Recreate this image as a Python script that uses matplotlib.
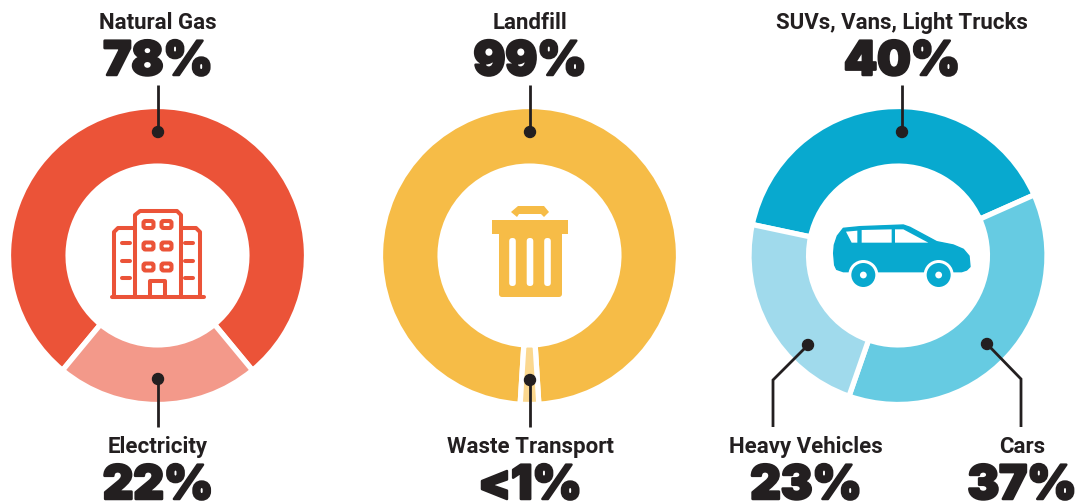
import matplotlib
matplotlib.use('Agg')
import matplotlib.pyplot as plt
import matplotlib.patheffects as pe
from matplotlib.patches import Circle, FancyBboxPatch, Polygon, Rectangle

W, H = 1090, 503

# Data
building_labels = ['Natural Gas', 'Electricity']
building_shares = [78, 22]
building_text = ['78%', '22%']

waste_labels = ['Landfill', 'Waste Transport']
waste_shares = [98, 2]  # the sliver is drawn wider than its real <1%
waste_text = ['99%', '<1%']

transport_labels = ['SUVs, Vans, Light Trucks', 'Cars', 'Heavy Vehicles']
transport_shares = [40, 37, 23]
transport_text = ['40%', '37%', '23%']

# Colours
red = ['#EB5338', '#F3998A']
yellow = ['#F6BC47', '#FBD88F']
blue = ['#08A9CF', '#66CBE2', '#A0DAEC']
dark = '#231F20'


def py(y):
    # picture rows run downwards, the axes upwards
    return H - y


def pts(points):
    return [(x, py(y)) for x, y in points]


def donut(ax, values, colors, cx, start, counterclock=True):
    ax.pie(values, colors=colors, center=(cx, py(255.5)), radius=149,
           startangle=start, counterclock=counterclock, frame=True,
           wedgeprops={'width': 59.6, 'edgecolor': 'white', 'linewidth': 3.8})


def leader(ax, points):
    xs = [p[0] for p in points]
    ys = [py(p[1]) for p in points]
    ax.plot(xs, ys, color=dark, lw=2.0, solid_capstyle='butt', solid_joinstyle='miter', zorder=5)
    ax.add_patch(Circle((xs[0], ys[0]), 5.5, color=dark, zorder=6))


def label(ax, x, y, name, value):
    ax.text(x, py(y + 1), name, ha='center', va='center', fontsize=16, color=dark,
            fontweight='bold', family='Roboto')
    ax.text(x, py(y + 41), value, ha='center', va='center', fontsize=34, color=dark,
            fontweight='black', family='Inter',
            path_effects=[pe.withStroke(linewidth=1.8, foreground=dark)])


def box(ax, x0, y0, x1, y1, round_px, **kw):
    ax.add_patch(FancyBboxPatch((x0 + round_px, py(y1) + round_px),
                                x1 - x0 - 2 * round_px, y1 - y0 - 2 * round_px,
                                boxstyle='round,pad=%s' % round_px, zorder=4, **kw))


def building_icon(ax):
    c = red[0]
    lw = 2.9
    line = {'fc': 'none', 'ec': c, 'lw': lw}
    ax.plot(*zip(*pts([(114, 297), (114, 232), (118, 228), (133, 228)])), color=c, lw=lw, zorder=4)
    ax.plot(*zip(*pts([(200, 297), (200, 232), (196, 228), (182, 228)])), color=c, lw=lw, zorder=4)
    ax.plot(*zip(*pts([(135, 297), (135, 215), (140, 211), (177, 211), (181, 215), (181, 297)])),
            color=c, lw=lw, zorder=4)
    ax.plot(*zip(*pts([(112, 297), (204, 297)])), color=c, lw=lw, solid_capstyle='round', zorder=4)
    ax.plot(*zip(*pts([(150, 297), (150, 281), (165, 281), (165, 297)])), color=c, lw=lw, zorder=4)
    for wy in [224.5, 246, 267]:
        for wx in [148.5, 166.5]:
            box(ax, wx - 5, wy - 3.5, wx + 5, wy + 3.5, 2, **line)
    for dy in [243, 261, 278]:
        for x0, x1 in [(122, 130), (185, 193)]:
            ax.plot(*zip(*pts([(x0, dy), (x1, dy)])), color=c, lw=lw, solid_capstyle='round', zorder=4)


def trash_icon(ax):
    c = yellow[0]
    ax.add_patch(Polygon(pts([(511, 212), (518, 206), (544, 206), (549, 212), (544, 217),
                              (541, 214), (519, 214), (517, 217)]), fc=c, ec='none', zorder=4))
    ax.add_patch(Rectangle((492, py(234)), 76, 14, fc=c, ec='none', zorder=4))
    box(ax, 499, 228, 562, 297, 3, fc=c, ec='none')
    for sx in [512.5, 530, 547.5]:
        box(ax, sx - 3.3, 238, sx + 3.3, 286, 3.2, fc='white', ec='none')


def car_icon(ax):
    c = blue[0]

    def z(x, y):
        return 820 + x / 3, 210 + y / 3

    body = [(50, 178), (44, 165), (41, 130), (43, 105), (52, 78), (70, 55), (120, 50), (250, 45),
            (270, 52), (350, 95), (400, 105), (430, 118), (447, 138), (450, 170), (440, 180),
            (425, 185), (70, 185)]
    ax.add_patch(Polygon(pts([z(*p) for p in body]), fc=c, ec=c, lw=1, joinstyle='round', zorder=4))
    windows = [[(78, 65), (112, 62), (112, 98), (95, 98)],
               [(125, 60), (215, 58), (215, 98), (125, 98)],
               [(225, 58), (250, 58), (325, 98), (225, 98)]]
    for w in windows:
        ax.add_patch(Polygon(pts([z(*p) for p in w]), fc='white', ec='none', zorder=5))
    for wx in [130, 356]:
        x, y = z(wx, 195)
        ax.add_patch(Circle((x, py(y)), 15, fc='white', ec='none', zorder=5))
        ax.add_patch(Circle((x, py(y)), 12, fc=c, ec='none', zorder=6))
        ax.add_patch(Circle((x, py(y)), 3.4, fc='white', ec='none', zorder=7))


fig = plt.figure(figsize=(W / 100, H / 100), dpi=100)
ax = fig.add_axes([0, 0, 1, 1])

donut(ax, building_shares, red, 157.5, -50.4)
donut(ax, waste_shares, yellow, 529.5, -90 + 3.6)
donut(ax, transport_shares, blue, 898, 168, counterclock=False)

leader(ax, [(158, 132), (158, 85)])
leader(ax, [(158, 379), (158, 427)])
leader(ax, [(530, 132), (530, 85)])
leader(ax, [(530, 380), (530, 427)])
leader(ax, [(902, 132), (902, 85)])
leader(ax, [(987, 344), (1021, 379), (1021, 427)])
leader(ax, [(808, 345), (773, 380), (773, 427)])

label(ax, 158, 22, building_labels[0], building_text[0])
label(ax, 158, 446, building_labels[1], building_text[1])
label(ax, 530, 22, waste_labels[0], waste_text[0])
label(ax, 530, 446, waste_labels[1], waste_text[1])
label(ax, 902, 22, transport_labels[0], transport_text[0])
label(ax, 1022, 446, transport_labels[1], transport_text[1])
label(ax, 806, 446, transport_labels[2], transport_text[2])

building_icon(ax)
trash_icon(ax)
car_icon(ax)

ax.set_xlim(0, W)
ax.set_ylim(0, H)
ax.set_aspect('equal')
ax.axis('off')

fig.savefig('out.png', dpi=100)
